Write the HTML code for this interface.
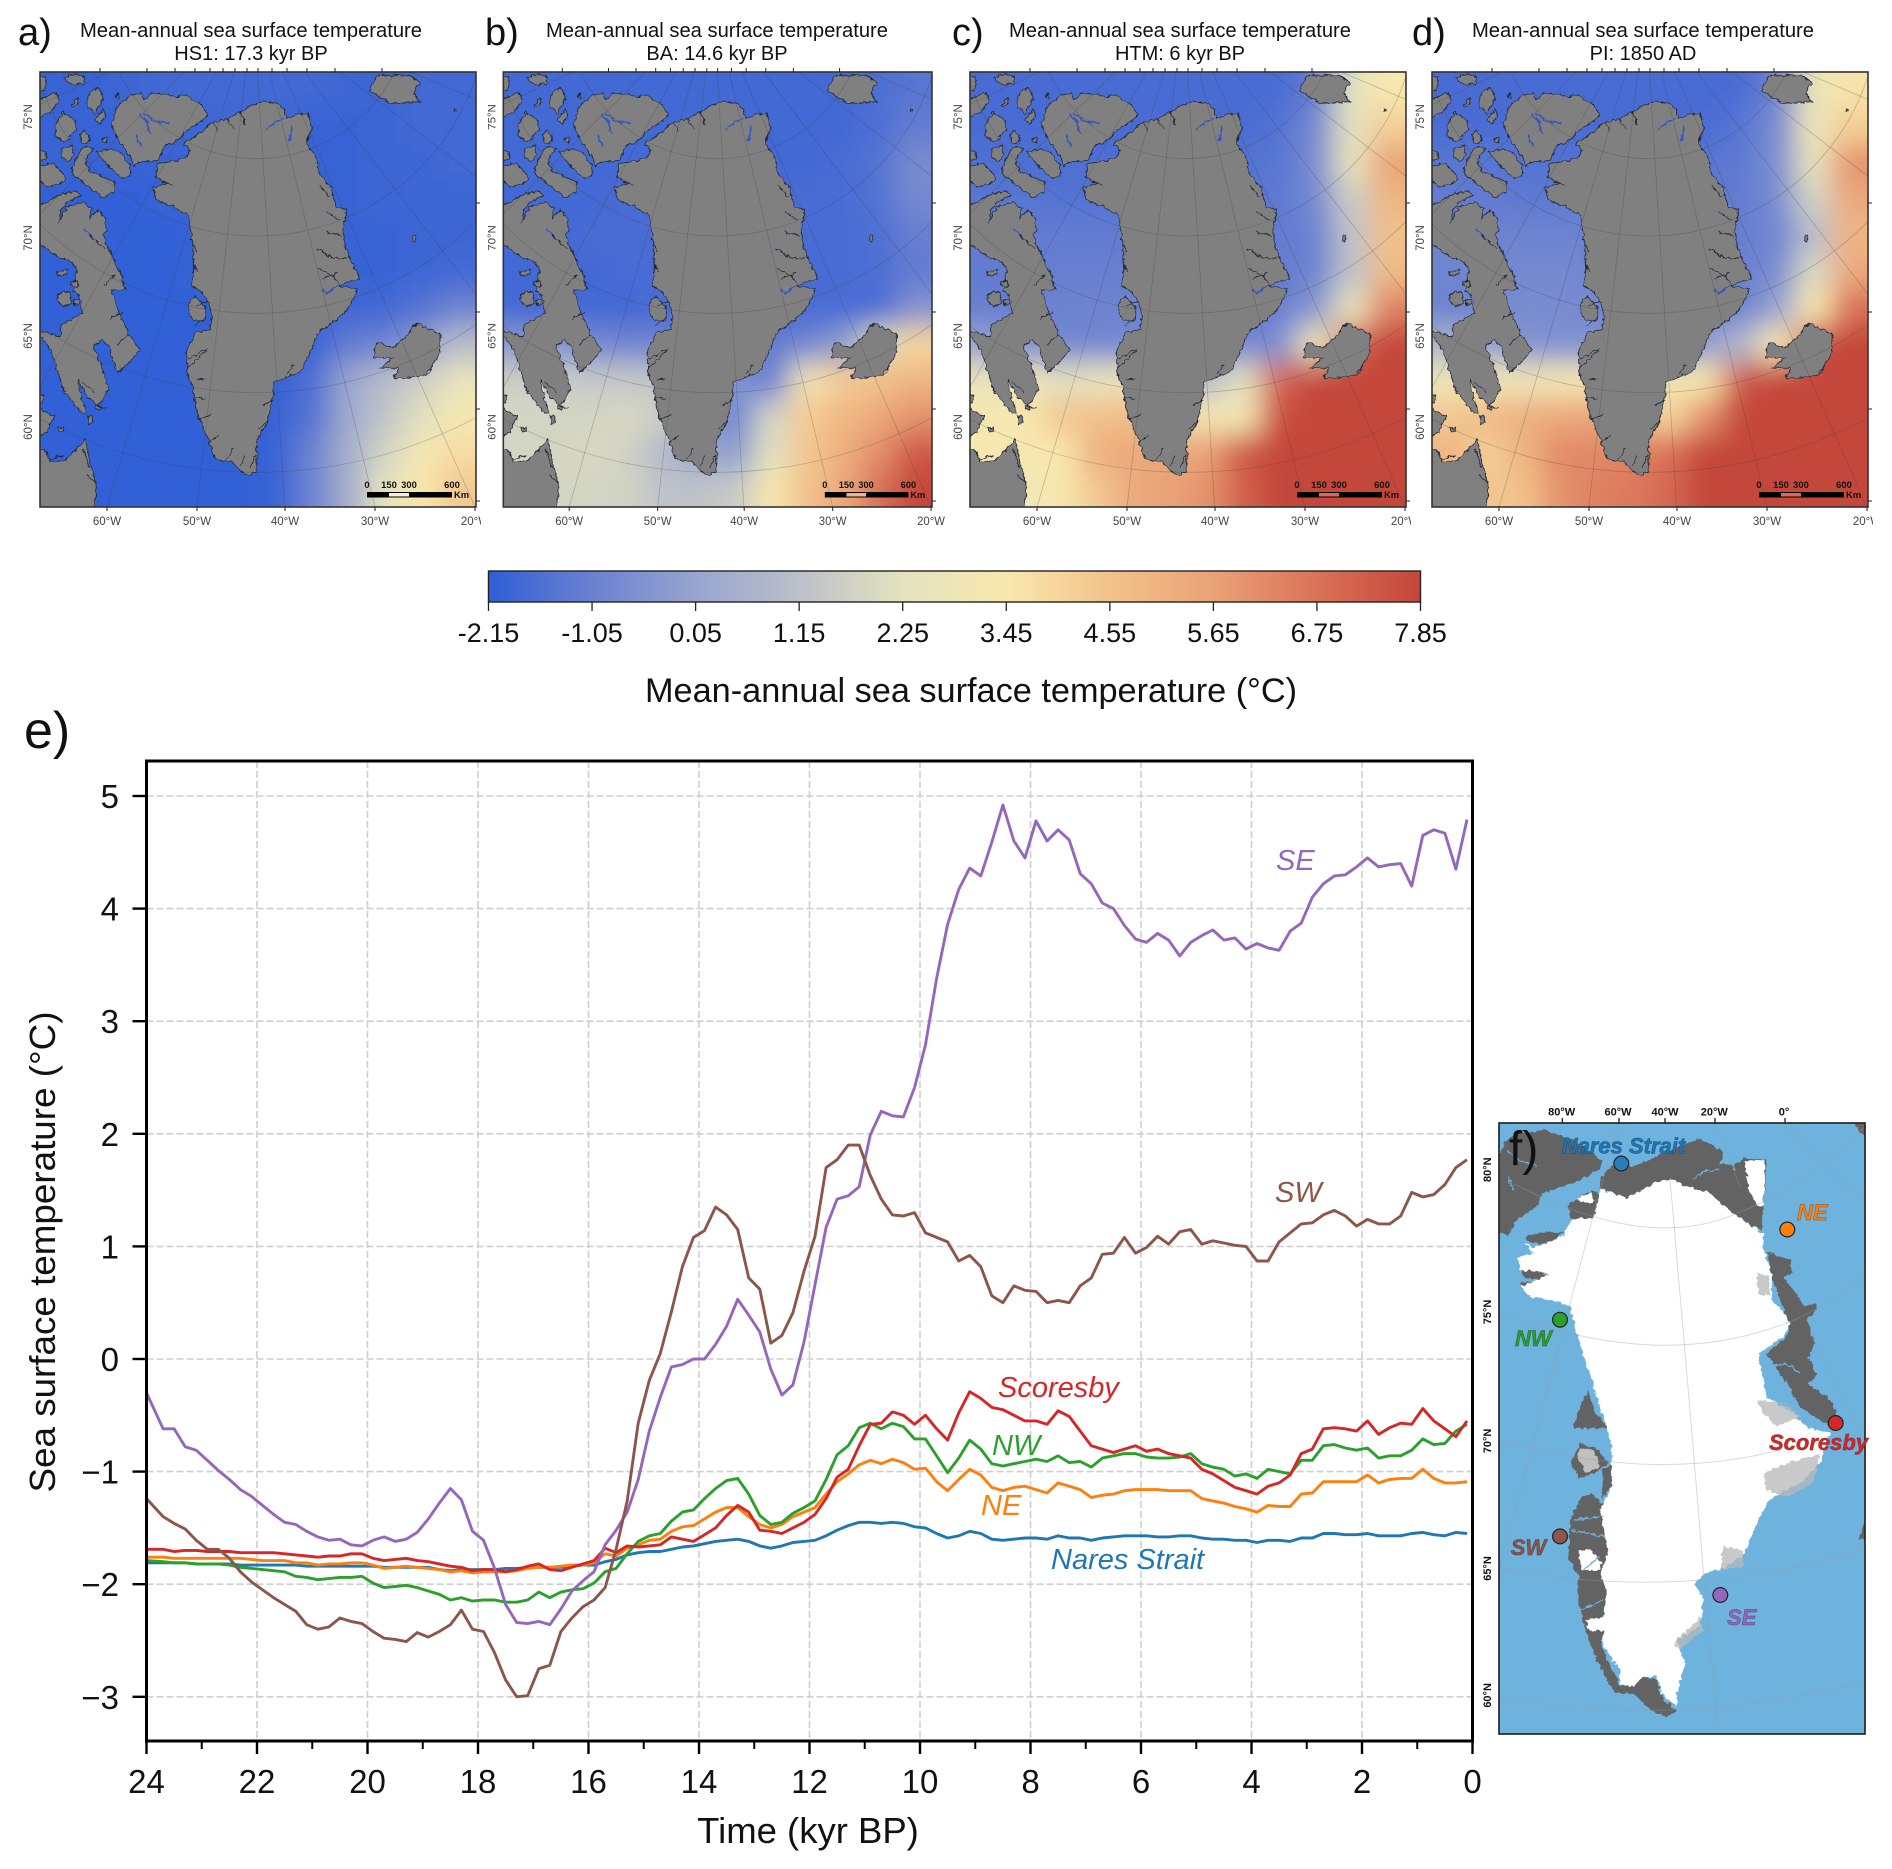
<!DOCTYPE html>
<html lang="en">
<head>
<meta charset="utf-8">
<title>Greenland sea surface temperature reconstruction</title>
<style>
html,body{margin:0;padding:0;background:#fff}
svg{display:block}
text{font-family:"Liberation Sans",Arial,sans-serif;fill:#111}
</style>
</head>
<body>
<svg id="fig" xmlns="http://www.w3.org/2000/svg" width="1892" height="1869" viewBox="0 0 1892 1869">
<defs>
  <filter id="sstBlur" filterUnits="userSpaceOnUse" x="-80" y="-80" width="600" height="600"><feGaussianBlur stdDeviation="14"/></filter>
  <filter id="rough" filterUnits="userSpaceOnUse" x="-20" y="-20" width="480" height="480" color-interpolation-filters="sRGB"><feTurbulence type="fractalNoise" baseFrequency=".2" numOctaves="2" seed="4" result="n"/><feDisplacementMap in="SourceGraphic" in2="n" scale="5" xChannelSelector="R" yChannelSelector="G"/></filter>
  <filter id="roughF" filterUnits="userSpaceOnUse" x="-20" y="0" width="1140" height="1870" color-interpolation-filters="sRGB"><feTurbulence type="fractalNoise" baseFrequency=".07" numOctaves="2" seed="7" result="n"/><feDisplacementMap in="SourceGraphic" in2="n" scale="16" xChannelSelector="R" yChannelSelector="G"/></filter>
  <clipPath id="mapClip"><rect x="0" y="0" width="436" height="435"/></clipPath>
  <clipPath id="labelClip"><rect x="-60" y="-40" width="501" height="520"/></clipPath>
  <clipPath id="fClip"><rect x="-3" y="9" width="1098" height="1833"/></clipPath>
  <linearGradient id="cbGrad" x1="0" x2="1" y1="0" y2="0">
    <stop offset="0" stop-color="#2f5ed6"/><stop offset=".111" stop-color="#6b81d0"/><stop offset=".222" stop-color="#97a4cf"/><stop offset=".333" stop-color="#bcc0c8"/><stop offset=".444" stop-color="#e3e3c0"/><stop offset=".556" stop-color="#f9e8ad"/><stop offset=".667" stop-color="#f2c28b"/><stop offset=".778" stop-color="#e9a276"/><stop offset=".889" stop-color="#da7258"/><stop offset="1" stop-color="#c4463a"/>
  </linearGradient>
  <g id="landShapes" transform="scale(.33333)">
    <g fill="#808080" stroke="#232a38" stroke-width="2.6" stroke-linejoin="round">
      <!-- Greenland -->
      <path d="M430,215 L470,190 L500,165 L520,150 L550,145 L575,135 L590,125 L625,105 L670,87 L715,95 L730,109 L740,140 L765,130 L805,123 L815,166 L800,218 L825,249 L835,300 L870,342 L890,404 L920,415 L910,466 L915,528 L935,570 L960,621 L925,630 L890,641 L955,652 L920,714 L880,750 L830,786 L820,817 L800,860 L780,900 L740,915 L700,931 L700,972 L680,1055 L650,1106 L650,1199 L625,1210 L600,1194 L575,1169 L545,1164 L525,1159 L505,1104 L490,1074 L470,1014 L458,944 L440,899 L440,834 L465,784 L480,779 L510,770 L515,730 L505,690 L480,655 L455,640 L462,590 L458,500 L445,430 L400,403 L350,385 L340,345 L385,335 L345,315 L352,275 L400,268 L440,255 L450,232 Z"/>
      <path d="M445,694 L465,674 L495,704 L500,744 L460,746 L445,719 Z"/>
      <!-- Ellesmere and neighbours -->
      <path d="M215,150 L235,100 L270,70 L305,65 L310,85 L330,65 L385,65 L400,75 L440,70 L480,95 L505,130 L480,150 L440,175 L415,205 L370,225 L355,265 L300,270 L280,285 L270,250 L240,215 L225,185 Z"/>
      <path d="M170,240 L215,230 L245,245 L270,280 L272,310 L250,320 L225,300 L195,270 Z"/>
      <path d="M95,285 L130,225 L165,230 L135,260 L150,300 L225,330 L222,360 L190,378 L130,330 L100,310 Z"/>
      <path d="M120,190 L135,172 L150,200 L145,215 L125,212 Z"/>
      <path d="M65,230 L95,222 L100,245 L85,267 L68,258 Z"/>
      <path d="M45,165 L70,120 L105,145 L110,170 L75,210 L45,190 Z"/>
      <path d="M140,75 L175,45 L190,80 L165,125 L145,110 Z"/>
      <path d="M165,145 L190,110 L197,135 L180,157 Z"/>
      <path d="M-12,85 L45,62 L60,80 L30,125 L-12,135 Z"/>
      <path d="M70,18 L105,5 L135,15 L130,35 L95,40 Z"/>
      <path d="M-12,12 L18,15 L15,55 L-12,62 Z"/>
      <path d="M-12,285 L40,272 L75,315 L70,330 L25,345 L-12,320 Z"/>
      <path d="M-12,238 L20,240 L15,262 L-12,265 Z"/>
      <path d="M97,98 L112,78 L115,90 L100,105 Z"/>
      <path d="M225,75 L238,65 L235,80 Z"/>
      <path d="M185,205 L200,195 L198,215 Z"/>
      <!-- Baffin -->
      <path d="M-12,410 L45,375 L100,355 L125,370 L85,388 L65,412 L55,450 L80,405 L130,390 L155,410 L148,440 L175,412 L195,440 L200,475 L190,490 L210,540 L245,610 L255,654 L215,654 L235,714 L265,784 L300,834 L265,874 L232,904 L215,854 L210,824 L185,804 L160,824 L190,894 L205,954 L175,1000 L160,990 L140,970 L112,920 L120,960 L140,1024 L125,1025 L70,955 L50,885 L30,830 L-12,775 L60,794 L65,759 L125,724 L125,684 L100,654 L110,600 L100,570 L60,560 L20,530 L-12,500 Z"/>
      <path d="M48,680 L65,658 L90,660 L95,690 L70,705 Z"/>
      <path d="M100,686 L115,680 L120,698 L105,702 Z"/>
      <path d="M50,600 L82,592 L80,608 L55,610 Z"/>
      <path d="M90,632 L112,625 L115,642 L95,645 Z"/>
      <!-- Labrador and Quebec -->
      <path d="M-12,1128 L20,1140 L30,1170 L75,1165 L110,1130 L138,1099 L150,1174 L170,1244 L160,1320 L-12,1320 Z"/>
      <path d="M-12,1004 L30,1030 L45,1030 L20,1080 L-12,1100 Z"/>
      <path d="M-12,965 L10,972 L8,990 L-12,992 Z"/>
      <path d="M55,1068 L68,1064 L70,1076 L58,1080 Z"/>
      <path d="M140,1034 L156,1032 L158,1052 L145,1055 Z"/>
      <path d="M165,1000 L176,1002 L178,1012 L168,1012 Z"/>
      <!-- Iceland -->
      <path d="M1000,858 L1010,812 L1060,827 L1090,802 L1130,755 L1200,786 L1200,838 L1160,910 L1060,920 L1075,889 L1020,889 L1060,858 Z"/>
      <!-- Svalbard -->
      <path d="M990,58 L1010,11 L1110,11 L1140,32 L1120,63 L1140,89 L1050,94 Z"/>
      <path d="M1242,112 L1250,112 L1250,118 L1242,118 Z"/>
      <path d="M1120,490 L1127,488 L1124,512 L1119,510 Z"/>
    </g>
    <g fill="none" stroke="#3155c4" stroke-width="5" stroke-linecap="round">
      <path d="M300,130 L322,150 L330,185"/><path d="M312,125 L345,148 L385,152"/><path d="M680,171 L705,150 L730,140"/><path d="M755,165 L748,205"/><path d="M895,640 L860,665 L850,655"/><path d="M290,190 L300,220"/><path d="M130,470 L160,500"/>
    </g>
    <g fill="none" stroke="#1c2230" stroke-width="2.4" stroke-linecap="round">
      <path d="M835,590 L880,611 L900,642"/><path d="M830,528 L880,559 L920,559"/><path d="M850,620 L890,600"/><path d="M860,480 L905,490"/><path d="M860,420 L900,445"/><path d="M840,340 L870,375"/><path d="M440,890 L500,834"/><path d="M445,860 L500,830"/><path d="M470,920 L495,918"/><path d="M465,975 L495,980"/><path d="M480,1040 L510,1030"/><path d="M510,1110 L535,1090"/><path d="M560,1160 L580,1130"/><path d="M600,1180 L615,1150"/><path d="M630,1190 L645,1150"/><path d="M660,1070 L680,1050"/><path d="M670,1000 L700,985"/><path d="M740,905 L760,880"/><path d="M455,500 L470,540"/><path d="M455,560 L470,600"/><path d="M470,700 L500,690"/><path d="M460,760 L500,735"/><path d="M520,150 L535,175"/><path d="M560,140 L580,170"/><path d="M600,120 L615,155"/><path d="M365,330 L395,335"/><path d="M230,820 L265,790"/><path d="M210,740 L250,720"/><path d="M190,640 L225,610"/><path d="M150,490 L195,530"/><path d="M130,930 L160,960"/><path d="M195,1010 L170,1000"/><path d="M130,1130 L150,1190"/><path d="M140,1210 L165,1230"/><path d="M30,1160 L70,1150"/>
    </g>
  </g>
</defs>

<rect x="0" y="0" width="1892" height="1869" fill="#fff"/>

<!-- panel letters and titles -->
<text x="18" y="45" font-size="38">a)</text>
<text x="485" y="45" font-size="38">b)</text>
<text x="952" y="45" font-size="38">c)</text>
<text x="1412" y="45" font-size="38">d)</text>

<g text-anchor="middle" font-size="20">
  <text x="251" y="37" textLength="342" lengthAdjust="spacingAndGlyphs">Mean-annual sea surface temperature</text>
  <text x="251" y="60">HS1: 17.3 kyr BP</text>
  <text x="717" y="37" textLength="342" lengthAdjust="spacingAndGlyphs">Mean-annual sea surface temperature</text>
  <text x="717" y="60">BA: 14.6 kyr BP</text>
  <text x="1180" y="37" textLength="342" lengthAdjust="spacingAndGlyphs">Mean-annual sea surface temperature</text>
  <text x="1180" y="60">HTM: 6 kyr BP</text>
  <text x="1643" y="37" textLength="342" lengthAdjust="spacingAndGlyphs">Mean-annual sea surface temperature</text>
  <text x="1643" y="60">PI: 1850 AD</text>
</g>

<g id="maps"></g>

<!-- colour bar -->
<g id="colorbar">
  <rect x="488.5" y="571" width="932" height="31" fill="url(#cbGrad)" stroke="#222" stroke-width="1.4"/>
  <text x="971" y="702" text-anchor="middle" font-size="34" textLength="652" lengthAdjust="spacingAndGlyphs">Mean-annual sea surface temperature (°C)</text>
</g>

<!-- panel e -->
<text x="24" y="748" font-size="52">e)</text>
<g id="chart"></g>

<!-- panel f -->
<g id="locator">
  <g transform="translate(1500,1120) scale(.33333)">
    <g clip-path="url(#fClip)">
      <rect x="-3" y="9" width="1098" height="1833" fill="#6eb2de"/>
      <g filter="url(#roughF)">
      <g fill="#636363">
        <path d="M-15,140 L15,60 L60,40 L130,30 L220,60 L310,125 L300,145 L240,180 L130,220 L110,260 L50,300 L25,345 L-15,335 Z"/>
        <path d="M300,205 L300,175 L340,135 L400,140 L470,110 L550,75 L600,55 L670,95 L660,130 L700,135 L730,115 L800,120 L790,260 L785,330 L760,320 L700,280 L620,215 L560,200 L510,175 L460,190 L380,235 L330,215 Z"/>
        <path d="M200,260 L260,215 L295,215 L295,290 L265,300 L215,295 Z"/>
        <path d="M75,350 L110,340 L185,335 L170,360 L120,372 L90,365 Z"/>
        <path d="M800,395 L870,420 L880,460 L850,470 L915,560 L945,550 L950,570 L920,600 L945,670 L925,710 L950,770 L920,790 L985,830 L1020,900 L1000,930 L960,900 L900,860 L860,790 L800,700 L860,650 L870,610 L840,540 L815,470 Z"/>
        <path d="M240,1135 L270,1120 L320,1160 L325,1300 L305,1360 L320,1420 L320,1500 L305,1580 L360,1700 L430,1670 L470,1680 L490,1740 L530,1770 L500,1790 L450,1770 L400,1720 L345,1720 L300,1640 L265,1560 L235,1450 L235,1370 L205,1310 L210,1200 Z"/>
        <path d="M240,970 L290,985 L325,1030 L285,1060 L240,1075 L212,1030 L225,1000 Z"/>
        <path d="M220,925 L240,860 L265,810 L285,880 L325,925 Z"/>
        <path d="M310,1050 L335,1030 L335,1100 L305,1135 Z"/>
        <path d="M1060,0 L1110,0 L1110,40 L1080,40 Z"/>
        <path d="M1110,1175 L1085,1230 L1075,1255 L1110,1258 Z"/>
        <path d="M60,490 L110,480 L120,500 L75,515 Z"/>
        <path d="M60,440 L130,430 L155,445 L120,480 L70,470 Z"/>
      </g>
      <path fill="#fff" d="M75,365 L100,385 L185,350 L220,295 L280,295 L300,210 L330,215 L380,235 L460,190 L510,175 L560,200 L620,215 L700,280 L760,320 L790,340 L790,390 L815,470 L815,540 L855,580 L870,610 L850,650 L775,700 L800,830 L880,880 L925,925 L990,940 L960,1030 L900,1090 L810,1135 L780,1190 L735,1300 L670,1345 L615,1360 L585,1390 L610,1440 L600,1520 L530,1560 L555,1630 L530,1720 L530,1760 L490,1730 L470,1670 L430,1670 L400,1700 L360,1695 L360,1650 L310,1580 L310,1500 L320,1410 L300,1360 L325,1300 L300,1170 L335,1100 L335,990 L320,920 L300,860 L250,700 L230,640 L210,560 L180,545 L90,530 L65,500 L150,460 L60,450 L55,410 L100,400 Z"/>
      <g fill="#fff">
        <path d="M735,125 L795,120 L790,260 L770,255 L745,200 Z"/>
        <path d="M230,235 L275,215 L285,245 L245,250 Z"/>
        <path d="M235,1290 L270,1290 L305,1330 L300,1350 L245,1350 Z"/>
        <path d="M255,1500 L320,1490 L310,1530 L270,1530 Z"/>
        <path d="M240,985 L280,990 L300,1040 L255,1060 L235,1010 Z" opacity=".6"/>
      </g>
      <g fill="#b8b8b8" opacity=".75">
        <path d="M790,1060 L860,1030 L960,1000 L940,1090 L860,1130 L800,1110 Z"/>
        <path d="M670,1280 L730,1290 L730,1340 L660,1350 Z"/>
        <path d="M520,1570 L600,1490 L610,1530 L540,1590 Z"/>
        <path d="M770,840 L860,850 L900,890 L830,920 L790,880 Z"/>
        <path d="M770,460 L810,470 L810,530 L775,520 Z"/>
      </g>
      <g fill="none" stroke="#6eb2de" stroke-width="4">
        <path d="M20,90 L60,120 L110,140"/><path d="M40,210 L25,170"/><path d="M580,180 L620,150 L660,150"/><path d="M690,125 L710,150"/><path d="M800,740 L860,730 L900,760"/><path d="M830,850 L880,860 L900,900"/><path d="M220,1200 L310,1190"/><path d="M215,1230 L320,1250"/><path d="M250,1350 L300,1310"/><path d="M240,1470 L310,1440"/>
      </g>
      </g>
      <g fill="none" stroke="#9a9a9a" stroke-opacity=".38" stroke-width="3">
        <path d="M40,190 Q440,400 710,280"/><path d="M710,280 Q900,210 1095,20"/>
        <path d="M0,575 Q480,760 870,605"/><path d="M860,610 Q980,560 1095,470"/>
        <path d="M0,960 Q450,1090 840,990"/><path d="M0,1345 Q550,1450 1095,1290"/><path d="M0,1730 Q520,1830 1095,1685"/>
        <path d="M510,175 L575,930 L610,1350 L655,1840"/><path d="M355,10 L300,210 L110,930 L0,1340"/>
        <path d="M645,10 L720,200"/><path d="M930,640 L1075,925"/><path d="M850,10 L1095,250"/>
      </g>
    </g>
    <rect x="-3" y="9" width="1098" height="1833" fill="none" stroke="#222" stroke-width="5"/>
    <g stroke="#222" stroke-width="4"><path d="M187,9 V-6 M357,9 V-6 M495,9 V-6 M645,9 V-6 M855,9 V-6"/></g>
  </g>
  <g font-size="11" font-weight="bold" text-anchor="middle" fill="#222">
    <text x="1561.7" y="1115.5">80°W</text>
    <text x="1618" y="1115.5">60°W</text>
    <text x="1665" y="1115.5">40°W</text>
    <text x="1714.3" y="1115.5">20°W</text>
    <text x="1784" y="1115.5">0°</text>
    <text transform="translate(1491,1169.7) rotate(-90)">80°N</text>
    <text transform="translate(1491,1312) rotate(-90)">75°N</text>
    <text transform="translate(1491,1441) rotate(-90)">70°N</text>
    <text transform="translate(1491,1568.5) rotate(-90)">65°N</text>
    <text transform="translate(1491,1695.4) rotate(-90)">60°N</text>
  </g>
  <g stroke="#222" stroke-width="1.2">
    <circle cx="1621.3" cy="1163.5" r="7.4" fill="#2a7fbb"/>
    <circle cx="1787.3" cy="1229.5" r="7.4" fill="#ff7f0e"/>
    <circle cx="1560" cy="1319.7" r="7.4" fill="#2ca02c"/>
    <circle cx="1835.7" cy="1423" r="7.4" fill="#d62728"/>
    <circle cx="1560" cy="1536.4" r="7.4" fill="#8c564b"/>
    <circle cx="1720.3" cy="1595" r="7.4" fill="#9467bd"/>
  </g>
  <g font-size="22" font-weight="bold" font-style="italic" stroke-width=".7" stroke-opacity=".55">
    <text x="1561.7" y="1153.5" style="fill:#1f77b4" stroke="#0d3d5e">Nares Strait</text>
    <text x="1797" y="1220" style="fill:#ff7f0e" stroke="#7a3b00">NE</text>
    <text x="1515" y="1346" style="fill:#2ca02c" stroke="#0f4d0f">NW</text>
    <text x="1769" y="1450" style="fill:#d62728" stroke="#6b1010">Scoresby</text>
    <text x="1510.7" y="1555" style="fill:#8c564b" stroke="#43271f">SW</text>
    <text x="1727" y="1625" style="fill:#9467bd" stroke="#47305e">SE</text>
  </g>
  <text x="1509" y="1165" font-size="48">f)</text>
</g>
</svg>

<script>
/* ---------- panel e data: ages in kyr BP and SST in degrees C ---------- */
const ages = [24,23.7,23.5,23.3,23.1,22.9,22.7,22.5,22.3,22.1,21.9,21.7,21.5,21.3,21.1,20.9,20.7,20.5,20.3,20.1,19.9,19.7,19.5,19.3,19.1,18.9,18.7,18.5,18.3,18.1,17.9,17.7,17.5,17.3,17.1,16.9,16.7,16.5,16.3,16.1,15.9,15.7,15.5,15.3,15.1,14.9,14.7,14.5,14.3,14.1,13.9,13.7,13.5,13.3,13.1,12.9,12.7,12.5,12.3,12.1,11.9,11.7,11.5,11.3,11.1,10.9,10.7,10.5,10.3,10.1,9.9,9.7,9.5,9.3,9.1,8.9,8.7,8.5,8.3,8.1,7.9,7.7,7.5,7.3,7.1,6.9,6.7,6.5,6.3,6.1,5.9,5.7,5.5,5.3,5.1,4.9,4.7,4.5,4.3,4.1,3.9,3.7,3.5,3.3,3.1,2.9,2.7,2.5,2.3,2.1,1.9,1.7,1.5,1.3,1.1,0.9,0.7,0.5,0.3,0.1];
const naresStrait = [-1.81,-1.81,-1.81,-1.81,-1.82,-1.82,-1.82,-1.82,-1.83,-1.83,-1.83,-1.83,-1.83,-1.83,-1.84,-1.84,-1.84,-1.84,-1.84,-1.84,-1.84,-1.85,-1.85,-1.85,-1.85,-1.85,-1.87,-1.88,-1.87,-1.87,-1.87,-1.87,-1.86,-1.86,-1.85,-1.85,-1.85,-1.85,-1.84,-1.83,-1.83,-1.8,-1.78,-1.74,-1.72,-1.71,-1.71,-1.69,-1.67,-1.66,-1.64,-1.62,-1.61,-1.6,-1.62,-1.66,-1.68,-1.66,-1.63,-1.62,-1.61,-1.57,-1.52,-1.48,-1.45,-1.45,-1.46,-1.45,-1.46,-1.49,-1.5,-1.55,-1.59,-1.57,-1.53,-1.55,-1.6,-1.61,-1.6,-1.59,-1.59,-1.6,-1.57,-1.59,-1.59,-1.61,-1.59,-1.58,-1.57,-1.57,-1.57,-1.58,-1.58,-1.57,-1.57,-1.59,-1.6,-1.6,-1.61,-1.61,-1.63,-1.61,-1.61,-1.62,-1.59,-1.59,-1.55,-1.55,-1.56,-1.56,-1.55,-1.57,-1.57,-1.57,-1.55,-1.54,-1.56,-1.57,-1.54,-1.55];
const northEast = [-1.76,-1.76,-1.77,-1.77,-1.77,-1.77,-1.77,-1.77,-1.77,-1.78,-1.79,-1.79,-1.79,-1.81,-1.81,-1.83,-1.82,-1.82,-1.81,-1.81,-1.83,-1.86,-1.85,-1.84,-1.85,-1.86,-1.87,-1.89,-1.88,-1.9,-1.89,-1.89,-1.89,-1.88,-1.86,-1.85,-1.85,-1.84,-1.83,-1.83,-1.81,-1.73,-1.75,-1.68,-1.65,-1.61,-1.6,-1.53,-1.49,-1.48,-1.42,-1.36,-1.32,-1.32,-1.4,-1.47,-1.5,-1.47,-1.4,-1.36,-1.32,-1.2,-1.09,-1.02,-.94,-.9,-.93,-.89,-.92,-.98,-.97,-1.09,-1.17,-1.07,-.98,-1.03,-1.14,-1.17,-1.14,-1.13,-1.16,-1.19,-1.1,-1.13,-1.16,-1.23,-1.21,-1.2,-1.17,-1.16,-1.16,-1.16,-1.17,-1.17,-1.17,-1.24,-1.26,-1.28,-1.31,-1.33,-1.36,-1.3,-1.31,-1.31,-1.2,-1.19,-1.09,-1.09,-1.09,-1.09,-1.03,-1.1,-1.07,-1.06,-1.06,-.98,-1.06,-1.1,-1.1,-1.09];
const northWest = [-1.79,-1.8,-1.81,-1.81,-1.82,-1.82,-1.82,-1.83,-1.85,-1.86,-1.87,-1.88,-1.89,-1.93,-1.94,-1.96,-1.95,-1.94,-1.94,-1.93,-1.99,-2.03,-2.02,-2.01,-2.03,-2.06,-2.09,-2.14,-2.12,-2.15,-2.14,-2.14,-2.16,-2.16,-2.14,-2.07,-2.12,-2.07,-2.05,-2.04,-1.99,-1.89,-1.86,-1.73,-1.62,-1.57,-1.55,-1.44,-1.36,-1.34,-1.24,-1.15,-1.08,-1.06,-1.2,-1.39,-1.47,-1.45,-1.37,-1.32,-1.26,-1.07,-.85,-.77,-.61,-.57,-.62,-.57,-.6,-.71,-.71,-.86,-1.01,-.88,-.72,-.8,-.93,-.95,-.93,-.91,-.89,-.91,-.86,-.92,-.91,-.96,-.88,-.86,-.84,-.84,-.87,-.88,-.88,-.87,-.84,-.93,-.96,-.98,-1.04,-1.02,-1.06,-.98,-1,-1.02,-.9,-.9,-.77,-.76,-.79,-.81,-.79,-.88,-.86,-.86,-.81,-.71,-.76,-.75,-.64,-.58];
const scoresby = [-1.69,-1.69,-1.71,-1.7,-1.7,-1.71,-1.71,-1.71,-1.72,-1.72,-1.72,-1.72,-1.73,-1.74,-1.75,-1.76,-1.75,-1.75,-1.73,-1.73,-1.77,-1.79,-1.78,-1.77,-1.79,-1.8,-1.82,-1.84,-1.85,-1.88,-1.87,-1.87,-1.89,-1.87,-1.84,-1.82,-1.87,-1.88,-1.85,-1.82,-1.79,-1.68,-1.72,-1.66,-1.67,-1.66,-1.65,-1.58,-1.6,-1.62,-1.56,-1.5,-1.39,-1.3,-1.36,-1.52,-1.53,-1.55,-1.5,-1.45,-1.38,-1.24,-1.05,-.98,-.77,-.58,-.57,-.47,-.5,-.58,-.5,-.62,-.72,-.48,-.29,-.35,-.43,-.45,-.5,-.55,-.55,-.58,-.46,-.51,-.64,-.77,-.8,-.83,-.8,-.77,-.82,-.8,-.84,-.86,-.88,-.98,-1.02,-1.08,-1.14,-1.17,-1.2,-1.13,-1.1,-1.03,-.84,-.8,-.62,-.61,-.62,-.64,-.55,-.67,-.61,-.57,-.58,-.44,-.55,-.62,-.69,-.55];
const southEast = [-.3,-.62,-.62,-.78,-.81,-.9,-.99,-1.07,-1.16,-1.22,-1.3,-1.38,-1.45,-1.47,-1.53,-1.58,-1.61,-1.6,-1.65,-1.66,-1.61,-1.58,-1.62,-1.6,-1.54,-1.42,-1.28,-1.15,-1.25,-1.53,-1.61,-1.86,-2.18,-2.34,-2.35,-2.33,-2.36,-2.22,-2.06,-1.97,-1.89,-1.65,-1.52,-1.36,-1.07,-.64,-.34,-.07,-.05,0,0,.13,.29,.53,.39,.24,-.09,-.32,-.23,.15,.66,1.17,1.42,1.45,1.53,1.99,2.2,2.16,2.15,2.41,2.79,3.38,3.86,4.17,4.36,4.29,4.59,4.92,4.6,4.45,4.78,4.6,4.7,4.61,4.31,4.22,4.05,4,3.85,3.73,3.7,3.78,3.72,3.58,3.7,3.76,3.81,3.72,3.74,3.64,3.69,3.65,3.63,3.8,3.87,4.1,4.22,4.29,4.3,4.37,4.45,4.37,4.39,4.4,4.2,4.65,4.7,4.67,4.35,4.79];
const southWest = [-1.24,-1.4,-1.46,-1.51,-1.61,-1.69,-1.69,-1.77,-1.89,-1.98,-2.05,-2.12,-2.18,-2.24,-2.36,-2.4,-2.38,-2.3,-2.33,-2.35,-2.42,-2.48,-2.49,-2.51,-2.43,-2.47,-2.42,-2.36,-2.23,-2.4,-2.42,-2.61,-2.85,-3,-2.99,-2.75,-2.72,-2.42,-2.3,-2.2,-2.14,-2.03,-1.69,-1.26,-.57,-.19,.05,.42,.82,1.08,1.14,1.35,1.28,1.15,.72,.62,.14,.21,.41,.78,1.09,1.7,1.77,1.9,1.9,1.63,1.42,1.28,1.27,1.3,1.12,1.08,1.04,.87,.92,.82,.56,.5,.65,.61,.6,.5,.52,.5,.65,.72,.93,.94,1.08,.94,.99,1.09,1.02,1.13,1.15,1.02,1.05,1.03,1.01,1,.87,.87,1.04,1.12,1.2,1.21,1.28,1.32,1.27,1.18,1.24,1.2,1.2,1.27,1.48,1.44,1.46,1.55,1.7,1.77];
const xTickValues = [24,22,20,18,16,14,12,10,8,6,4,2,0];
const xMinorTickValues = [23,21,19,17,15,13,11,9,7,5,3,1];
const yTickValues = [5,4,3,2,1,0,-1,-2,-3];
const seriesNames = ['Nares Strait','NE','NW','Scoresby','SE','SW'];
const seriesValues = [naresStrait,northEast,northWest,scoresby,southEast,southWest];
const seriesColors = ['#1f77b4','#ff7f0e','#2ca02c','#d62728','#9467bd','#8c564b'];

/* ---------- colour bar ---------- */
const colorbarLabels = ['-2.15','-1.05','0.05','1.15','2.25','3.45','4.55','5.65','6.75','7.85'];
const colorStopValues = [-2.15,-1.05,0.05,1.15,2.25,3.45,4.55,5.65,6.75,7.85];
const colorStopRgb = [[47,94,214],[107,129,208],[151,164,207],[188,192,200],[227,227,192],[249,232,173],[242,194,139],[233,162,118],[218,114,88],[196,70,58]];

/* ---------- SST fields, 12 by 12 cells, degrees C ---------- */
const sstHS1 = [
[-2,-2,-1.9,-1.8,-1.8,-1.8,-1.8,-1.8,-1.9,-1.9,-1.8,-1.8],
[-2,-2,-2,-1.9,-1.9,-1.9,-1.9,-2,-2,-1.9,-1.8,-1.8],
[-2,-2,-2,-2,-2,-2,-2,-2,-2,-1.9,-1.9,-1.8],
[-2.1,-2.1,-2.1,-2,-2,-2,-2,-2,-2,-1.9,-1.9,-1.9],
[-2.1,-2.1,-2.1,-2.1,-2,-2,-2,-2,-2,-2,-1.9,-1.9],
[-2.1,-2.1,-2.1,-2.1,-2,-2,-2,-2,-2,-2,-1.9,-1.8],
[-2.1,-2.1,-2.1,-2.1,-2.1,-2,-2,-2,-1.9,-1.8,-1.5,-1],
[-2.1,-2.1,-2.1,-2.1,-2.1,-2,-2,-2,-1.2,-1,-.2,1],
[-2.1,-2.1,-2.1,-2.1,-2.1,-2.1,-2,-1.6,.1,1,1.6,2.5],
[-2.1,-2.1,-2.1,-2.1,-2.1,-2.1,-2,-1.5,.3,1.3,2.2,3.2],
[-2.1,-2.1,-2.1,-2.1,-2.1,-2.1,-2,-1,.5,1.8,3.1,3.8],
[-2.1,-2.1,-2.1,-2.1,-2.1,-2.1,-2,-1,.5,2.4,3.5,4.4]];
const sstBA = [
[-1.8,-1.8,-1.8,-1.8,-1.8,-1.8,-1.8,-1.8,-1.8,-1.8,-1.6,-1.4],
[-1.8,-1.8,-1.8,-1.8,-1.8,-1.8,-1.8,-1.8,-1.8,-1.8,-1.6,-1.2],
[-1.8,-1.8,-1.8,-1.8,-1.8,-1.8,-1.8,-1.8,-1.8,-1.7,-1.5,-.7],
[-1.8,-1.8,-1.8,-1.7,-1.7,-1.7,-1.7,-1.7,-1.7,-1.7,-1.5,-.8],
[-1.8,-1.8,-1.7,-1.7,-1.7,-1.7,-1.7,-1.7,-1.7,-1.7,-1.6,-1.1],
[-1.8,-1.8,-1.8,-1.7,-1.7,-1.7,-1.7,-1.7,-1.7,-1.7,-1.6,-1.2],
[-1.8,-1.8,-1.8,-1.8,-1.7,-1.7,-1.7,-1.7,-1.7,-1.7,-1.7,-.5],
[-.3,-.5,-.8,-1,-.9,-1,-1,-1.2,-.9,-.2,2,4],
[1.6,1.6,1.4,1.4,1.3,0,-.5,-1.2,3,4.3,4.6,5],
[1.8,1.8,1.8,1.9,1.6,0,-1,1.8,4.3,4.9,5.4,6],
[1.8,1.8,1.9,1.7,.8,.2,-.2,2.2,4.4,5.2,6.1,7.4],
[1.9,1.8,1.8,1.7,1.2,1.2,1.5,3.3,4.6,5.4,6.8,7.85]];
const sstHTM = [
[-1.7,-1.7,-1.7,-1.7,-1.7,-1.7,-1.7,-1.7,-1.7,-1.2,2.2,3.4],
[-1.7,-1.7,-1.7,-1.7,-1.7,-1.7,-1.7,-1.7,-1.5,-.8,2.2,4.2],
[-1.6,-1.6,-1.6,-1.6,-1.6,-1.6,-1.6,-1.5,-1.4,-.7,2.6,5.6],
[-1.4,-1.4,-1.5,-1.5,-1.5,-1.5,-1.4,-1.4,-1.3,-.8,1.6,5],
[-1.2,-1.2,-1.2,-1.2,-1.2,-1.2,-1.2,-1.2,-1.2,-1,1.2,4.6],
[-1.2,-1.2,-1.1,-1.1,-1.1,-1.2,-1.2,-1.2,-1.2,-1,1.2,4.8],
[-1.1,-1.1,-1,-1,-1,-1.1,-1.1,-1.1,-1.1,-.4,2.6,6.4],
[0,-.6,-.9,-.9,-.8,-1,-1,-.9,-.6,2.8,7,7.85],
[2.6,2.8,2.2,2.6,2.8,2,1,2.2,7,7.85,7.85,7.85],
[3.2,3.4,4.4,4.6,4.8,4,3,3.2,7.6,7.85,7.85,7.85],
[3.3,3.3,3.4,5.2,5.4,5.5,5.6,7.4,7.85,7.85,7.85,7.85],
[3,3,3.3,4.4,5.4,5.6,6,7.2,7.85,7.85,7.85,7.85]];
const sstPI = [
[-1.7,-1.7,-1.7,-1.7,-1.7,-1.7,-1.7,-1.7,-1.7,-1,2.6,3.6],
[-1.7,-1.7,-1.7,-1.7,-1.7,-1.7,-1.7,-1.7,-1.4,-.7,2.8,4.2],
[-1.4,-1.4,-1.5,-1.5,-1.5,-1.5,-1.5,-1.4,-1.3,-.6,2.6,6],
[-1.2,-1.2,-1.3,-1.3,-1.3,-1.3,-1.3,-1.2,-1.2,-.7,1.8,5.4],
[-1,-1,-1,-1,-1,-1.1,-1.1,-1.1,-1.1,-.9,1,5],
[-.9,-.9,-.8,-.8,-.9,-1,-1,-1.1,-1.1,-.7,2,5.4],
[-1,-.9,-.7,-.7,-.8,-1,-1,-1,-1,0,3.4,6.8],
[.6,-.2,-.5,-.6,-.5,-.9,-.9,-.2,.8,3.4,7.6,7.85],
[2.8,3.2,2.8,3.2,3.2,2.6,3,3.4,7.4,7.85,7.85,7.85],
[4.4,4.8,5.2,5.4,5.6,5,4,6,7.85,7.85,7.85,7.85],
[5,4.2,5,6.2,6.2,6.4,6.8,7.85,7.85,7.85,7.85,7.85],
[5,4.4,4.6,6,6.4,6.6,7,7.85,7.85,7.85,7.85,7.85]];

/* ---------- map furniture ---------- */
const lonLabels = ['60°W','50°W','40°W','30°W','20°W'];
const latLabels = ['75°N','70°N','65°N','60°N'];
const scaleLabels = ['0','150','300','600'];
const panelIds = ['a','b','c','d'];
const panelFields = [sstHS1,sstBA,sstHTM,sstPI];

const NS = 'http://www.w3.org/2000/svg';
function mk(tag, attrs, parent){
  const n = document.createElementNS(NS, tag);
  for (const k in attrs) n.setAttribute(k, attrs[k]);
  if (parent) parent.appendChild(n);
  return n;
}
function sstColor(v){
  let i = 0;
  while (i < colorStopValues.length - 2 && v > colorStopValues[i+1]) i++;
  const lo = colorStopValues[i], hi = colorStopValues[i+1];
  const t = Math.max(0, Math.min(1, (v - lo) / (hi - lo)));
  const a = colorStopRgb[i], b = colorStopRgb[i+1];
  return 'rgb(' + [0,1,2].map(function(c){ return Math.round(a[c] + (b[c]-a[c]) * t); }).join(',') + ')';
}

/* panel geometry */
const mapLefts = [40,503.3,970,1432];
const mapWidths = [436,428.7,436,436];
const scaleMid = ['#f6efd6','#efb38c','#dc6a52','#dc6a52'];
const topTickRel = [60,107,135,155,170,183,195,207,218,232,247,267,295,342];
const rightTickRel = [131,240,337,429];
const lonTickRel = [67,157,245,335,435];
const latRel = [45,166,264,355];
const scaleRel = [327,349,369,412];
const poleX = 640, poleY = -200;
const parallelRadii = [1400,1161,923,691,459];
const meridianTargets = [-2600,-900,-200,201,471,734,1005,1305,1800,2600,4200];

const mapsRoot = document.getElementById('maps');
panelIds.forEach(function(id, p){
  const g = mk('g', {transform:'translate(' + mapLefts[p] + ',72) scale(' + (mapWidths[p]/436) + ',1)'}, mapsRoot);
  
  

  const clip = mk('g', {'clip-path':'url(#mapClip)'}, g);
  const field = mk('g', {filter:'url(#sstBlur)'}, clip);
  
  
  const rows = panelFields[p];
  const cw = 436 / rows[0].length, ch = 435 / rows.length;
  rows.forEach(function(row, r){
    row.forEach(function(val, c){
      const x0 = c === 0 ? -70 : c * cw;
      const x1 = c === row.length - 1 ? 506 : (c + 1) * cw;
      const y0 = r === 0 ? -70 : r * ch;
      const y1 = r === rows.length - 1 ? 505 : (r + 1) * ch;
      const cell = mk('rect', {x:x0, y:y0, width:x1 - x0 + .5, height:y1 - y0 + .5, fill:sstColor(val)}, field);
      
      
    });
  });

  const land = mk('use', {href:'#landShapes', filter:'url(#rough)'}, clip);
  
  

  const grat = mk('g', {transform:'scale(.33333)', fill:'none', stroke:'#3c3c3c', 'stroke-opacity':'.28', 'stroke-width':'2.4'}, clip);
  
  
  parallelRadii.forEach(function(rad){ mk('circle', {cx:poleX + 10, cy:poleY + 1, r:rad}, grat); });
  meridianTargets.forEach(function(tx){ mk('line', {x1:poleX, y1:poleY, x2:tx, y2:1305}, grat); });

  /* scale bar */
  const bar = mk('g', {}, g);
  
  
  mk('rect', {x:scaleRel[0], y:420, width:scaleRel[3]-scaleRel[0], height:5.5, fill:'#000'}, bar);
  mk('rect', {x:scaleRel[1], y:421, width:scaleRel[2]-scaleRel[1], height:3.5, fill:scaleMid[p]}, bar);
  scaleLabels.forEach(function(s, i){
    const t = mk('text', {x:scaleRel[i], y:416, 'text-anchor':'middle', 'font-size':'9.4', 'font-weight':'bold'}, bar);
    
    
    t.textContent = s;
  });
  const km = mk('text', {x:414, y:426, 'font-size':'9.4', 'font-weight':'bold'}, bar);
  
  
  km.textContent = 'Km';

  /* frame and ticks */
  const frame = mk('rect', {x:0, y:0, width:436, height:435, fill:'none', stroke:'#333', 'stroke-width':'1.6'}, g);
  
  
  const ticks = mk('g', {stroke:'#222', 'stroke-width':'1'}, g);
  
  
  topTickRel.forEach(function(x){ mk('line', {x1:x, x2:x, y1:0, y2:-4}, ticks); });
  rightTickRel.forEach(function(y){ mk('line', {x1:436, x2:440, y1:y, y2:y}, ticks); });
  lonTickRel.forEach(function(x){ mk('line', {x1:x, x2:x, y1:435, y2:439}, ticks); });
  const labelHolder = mk('g', p === 1 ? {} : {'clip-path':'url(#labelClip)'}, g);
  lonLabels.forEach(function(s, i){
    const t = mk('text', {x:lonTickRel[i], y:453, 'text-anchor':'middle', 'font-size':'11.5', style:'fill:#444'}, labelHolder);
    
    
    t.textContent = s;
  });
  latLabels.forEach(function(s, i){
    const t = mk('text', {transform:'translate(-8,' + latRel[i] + ') rotate(-90)', 'text-anchor':'middle', 'font-size':'11.5', style:'fill:#444'}, g);
    
    
    t.textContent = s;
  });
});

/* colour bar ticks */
const cbRoot = document.getElementById('colorbar');
colorbarLabels.forEach(function(s, i){
  const x = 488.5 + i * (932 / (colorbarLabels.length - 1));
  const tk = mk('line', {x1:x, x2:x, y1:602, y2:611, stroke:'#222', 'stroke-width':'1.3'}, cbRoot);
  
  
  const t = mk('text', {x:x, y:642, 'text-anchor':'middle', 'font-size':'27'}, cbRoot);
  
  
  t.textContent = s;
});

/* ---------- panel e ---------- */
const chartRoot = document.getElementById('chart');
const plotLeft = 146.5, plotRight = 1472.5, plotTop = 761, plotBottom = 1741;
function xScale(age){ return plotRight - age * (plotRight - plotLeft) / 24; }
function yScale(v){ return 796 + (5 - v) * 112.6; }

const gridG = mk('g', {stroke:'#cfcfcf', 'stroke-width':'1.6', 'stroke-dasharray':'7 3'}, chartRoot);


xTickValues.forEach(function(t){
  if (t === 24 || t === 0) return;
  const l = mk('line', {x1:xScale(t), x2:xScale(t), y1:plotTop, y2:plotBottom}, gridG);
  
  
});
yTickValues.forEach(function(v){
  const l = mk('line', {x1:plotLeft, x2:plotRight, y1:yScale(v), y2:yScale(v)}, gridG);
  
  
});

seriesValues.forEach(function(vals, s){
  const pts = vals.map(function(v, i){ return xScale(ages[i]).toFixed(1) + ',' + yScale(v).toFixed(1); }).join(' ');
  const line = mk('polyline', {points:pts, fill:'none', stroke:seriesColors[s], 'stroke-width':'2.9', 'stroke-linejoin':'round'}, chartRoot);
  
  
  line.setAttribute('aria-label', seriesNames[s]);
});

const spine = mk('rect', {x:plotLeft, y:plotTop, width:plotRight - plotLeft, height:plotBottom - plotTop, fill:'none', stroke:'#000', 'stroke-width':'3'}, chartRoot);



xTickValues.forEach(function(t){
  const x = xScale(t);
  const tk = mk('line', {x1:x, x2:x, y1:plotBottom, y2:plotBottom + 13, stroke:'#000', 'stroke-width':'2.4'}, chartRoot);
  
  
  const lb = mk('text', {x:x, y:1793, 'text-anchor':'middle', 'font-size':'33'}, chartRoot);
  
  
  lb.textContent = String(t);
});
xMinorTickValues.forEach(function(t){
  const tk = mk('line', {x1:xScale(t), x2:xScale(t), y1:plotBottom, y2:plotBottom + 8, stroke:'#000', 'stroke-width':'2'}, chartRoot);
  
  
});
yTickValues.forEach(function(v){
  const y = yScale(v);
  const tk = mk('line', {x1:plotLeft - 14, x2:plotLeft, y1:y, y2:y, stroke:'#000', 'stroke-width':'2.4'}, chartRoot);
  
  
  const lb = mk('text', {x:119, y:y + 12, 'text-anchor':'end', 'font-size':'33'}, chartRoot);
  
  
  lb.textContent = v < 0 ? '\u2212' + Math.abs(v) : String(v);
});

const xTitle = mk('text', {x:808, y:1843, 'text-anchor':'middle', 'font-size':'36.5'}, chartRoot);


xTitle.textContent = 'Time (kyr BP)';
const yTitle = mk('text', {transform:'translate(55,1252) rotate(-90)', 'text-anchor':'middle', 'font-size':'36.5', textLength:'481', lengthAdjust:'spacingAndGlyphs'}, chartRoot);


yTitle.textContent = 'Sea surface temperature (°C)';

const seriesLabelText = ['SE','SW','Scoresby','NW','NE','Nares Strait'];
const seriesLabelColor = ['#9467bd','#8c564b','#d62728','#2ca02c','#ff7f0e','#1f77b4'];
const seriesLabelX = [1276,1275,998,992,981,1051];
const seriesLabelY = [870,1202,1397,1455,1515,1569];
seriesLabelText.forEach(function(s, i){
  const t = mk('text', {x:seriesLabelX[i], y:seriesLabelY[i], 'font-size':'29', 'font-style':'italic', style:'fill:' + seriesLabelColor[i]}, chartRoot);
  
  
  t.textContent = s;
});
</script>
</body>
</html>
